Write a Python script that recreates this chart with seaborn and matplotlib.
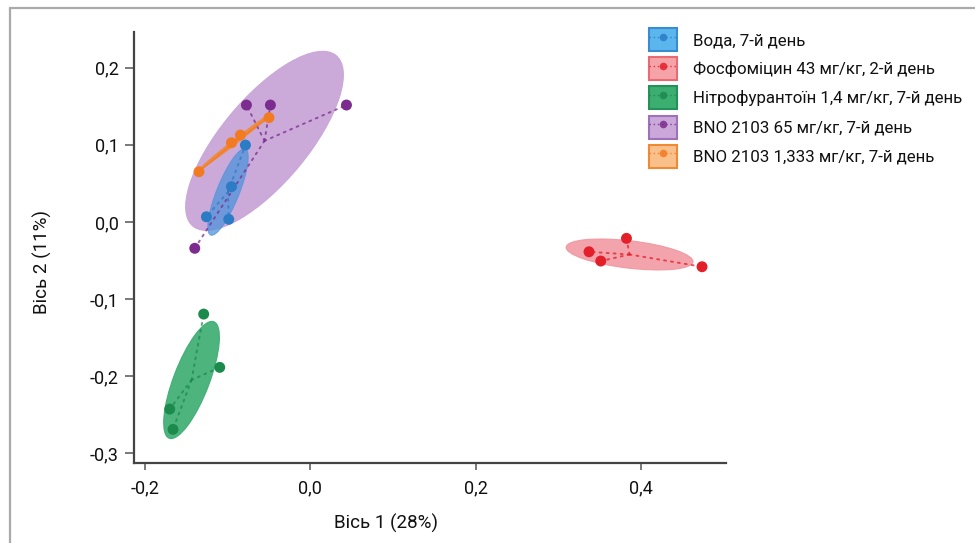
import numpy as np
import pandas as pd
import matplotlib
matplotlib.use("Agg")
import matplotlib.pyplot as plt
import seaborn as sns
from matplotlib.patches import Ellipse, Rectangle
from matplotlib.lines import Line2D
from matplotlib.legend_handler import HandlerTuple
from matplotlib import font_manager

# ---------------- data ----------------
groups = ["Вода, 7-й день",
          "Фосфоміцин 43 мг/кг, 2-й день",
          "Нітрофурантоїн 1,4 мг/кг, 7-й день",
          "BNO 2103 65 мг/кг, 7-й день",
          "BNO 2103 1,333 мг/кг, 7-й день"]

water_x = [-0.0785, -0.0954, -0.1257, -0.0987]
water_y = [0.0997, 0.0457, 0.0067, 0.0034]
fosfo_x = [0.3824, 0.3371, 0.3513, 0.4738]
fosfo_y = [-0.0213, -0.0387, -0.0507, -0.0581]
nitro_x = [-0.1290, -0.1096, -0.1701, -0.1661]
nitro_y = [-0.1195, -0.1886, -0.2427, -0.2690]
bno65_x = [-0.0773, -0.0483, 0.0437, -0.1398]
bno65_y = [0.1516, 0.1516, 0.1516, -0.0342]
bno1_x = [-0.1347, -0.0954, -0.0846, -0.0500]
bno1_y = [0.0651, 0.1027, 0.1127, 0.1352]

xticks = [-0.2, 0.0, 0.2, 0.4]
yticks = [-0.3, -0.2, -0.1, 0.0, 0.1, 0.2]
xlabel = "Вісь 1 (28%)"
ylabel = "Вісь 2 (11%)"

series_x = [water_x, fosfo_x, nitro_x, bno65_x, bno1_x]
series_y = [water_y, fosfo_y, nitro_y, bno65_y, bno1_y]

# ---------------- style ----------------
point_colors = ["#2b7cc4", "#e3202a", "#1b8a4c", "#7b2c8e", "#f27b22"]
ell_colors = ["#5093dc", "#f0939c", "#3aac70", "#c9a6d8", "#f4882e"]
ell_alpha = [0.75, 0.85, 0.9, 0.95, 0.9]
ell_edge_lw = [0.8, 0.8, 0.8, 0.8, 0.2]
n_std = [1.25, 1.25, 1.15, 1.25, 1.25]
leg_fill = ["#5cb6ee", "#f5a3a8", "#3cae70", "#caa8da", "#f9c08c"]
leg_edge = ["#3a8bd0", "#e86a72", "#25915a", "#9e72b8", "#f08a32"]
spider_ls = [(0, (1, 2.6))] * 4 + ["-"]

def pick_font():
    for fam in ["Liberation Sans Narrow", "Roboto"]:
        try:
            font_manager.findfont(fam, fallback_to_default=False)
            return fam
        except Exception:
            pass
    return "DejaVu Sans"

sns.set_theme(style="white")
fam = pick_font()
plt.rcParams["font.family"] = [fam, "DejaVu Sans"]

rows = []
for g, xs, ys in zip(groups, series_x, series_y):
    for a, b in zip(xs, ys):
        rows.append({"group": g, "x": a, "y": b})
df = pd.DataFrame(rows)

fig = plt.figure(figsize=(9.75, 5.43), dpi=100)
ax = fig.add_axes([134 / 975, 1 - 463 / 543, (726 - 134) / 975, (463 - 32) / 543])

# ellipses (largest first)
order = [3, 0, 2, 1, 4]
for k, i in enumerate(order):
    xs = np.array(series_x[i]); ys = np.array(series_y[i])
    cov = np.cov(xs, ys)
    vals, vecs = np.linalg.eigh(cov)
    idx = np.argsort(vals)[::-1]
    vals = vals[idx]; vecs = vecs[:, idx]
    ang = np.degrees(np.arctan2(vecs[1, 0], vecs[0, 0]))
    w = 2 * n_std[i] * np.sqrt(max(vals[0], 0))
    h = 2 * n_std[i] * np.sqrt(max(vals[1], 0))
    e = Ellipse((xs.mean(), ys.mean()), w, h, angle=ang,
                facecolor=ell_colors[i], edgecolor=ell_colors[i],
                lw=ell_edge_lw[i], alpha=ell_alpha[i], zorder=1 + k * 0.1)
    ax.add_patch(e)

# spider lines from centroid
for i in range(len(groups)):
    xs = np.array(series_x[i]); ys = np.array(series_y[i])
    cx, cy = xs.mean(), ys.mean()
    for a, b in zip(xs, ys):
        ax.plot([cx, a], [cy, b], color=point_colors[i],
                lw=1.4 if i != 4 else 1.0, ls=spider_ls[i],
                alpha=0.75, zorder=3, dash_capstyle="round")

sns.scatterplot(data=df, x="x", y="y", hue="group", palette=point_colors,
                hue_order=groups, s=62, edgecolor="none", legend=False,
                ax=ax, zorder=4)

ax.set_xlim(-0.2133, 0.5028)
ax.set_ylim(-0.3126, 0.2463)
ax.set_xticks(xticks)
ax.set_yticks(yticks)
ax.set_xticklabels([f"{t:.1f}".replace(".", ",") for t in xticks])
ax.set_yticklabels([f"{t:.1f}".replace(".", ",").replace("-0,0", "0,0") for t in yticks])
for s in ["top", "right"]:
    ax.spines[s].set_visible(False)
for s in ["left", "bottom"]:
    ax.spines[s].set_color("#444444")
    ax.spines[s].set_linewidth(1.6)
ax.tick_params(axis="y", direction="out", length=6.5, width=1.1, color="#555555",
               pad=4.5, labelsize=13, labelcolor="#111111", left=True)
ax.tick_params(axis="x", direction="out", length=5, width=1.1, color="#555555",
               pad=7, labelsize=13, labelcolor="#111111", bottom=True)
ax.set_facecolor("white")
ax.grid(False)

ax.set_xlabel(xlabel, fontsize=13.5, color="#111111")
ax.set_ylabel(ylabel, fontsize=13.5, color="#111111")
ax.xaxis.set_label_coords((386 - 134) / 592, -(523 - 463) / 431)
ax.xaxis.label.set_va("center")
ax.yaxis.set_label_coords((42 - 134) / 592, (463 - 262) / 431)
ax.yaxis.label.set_va("center")

# legend
handles = []
for i in range(len(groups)):
    r = Rectangle((0, 0), 1, 1, facecolor=leg_fill[i], edgecolor=leg_edge[i], lw=1.5)
    m = Line2D([0], [0], color=point_colors[i], ls=(0, (1, 2)), lw=1.0,
               marker="o", markersize=5.5, markeredgewidth=0, alpha=0.85)
    handles.append((r, m))
leg = fig.legend(handles, groups, loc="upper left",
                 bbox_to_anchor=(649 / 975, 1 - 28 / 543),
                 frameon=False, fontsize=12.2, handlelength=1.65, handleheight=1.72,
                 labelspacing=0.36, handletextpad=0.95, borderpad=0, borderaxespad=0,
                 handler_map={tuple: HandlerTuple(ndivide=1)})
for t in leg.get_texts():
    t.set_color("#111111")

# outer frame lines (top and left)
fig.add_artist(Line2D([10 / 975, 1.0], [1 - 8 / 543, 1 - 8 / 543], color="#aaaaaa", lw=1.6))
fig.add_artist(Line2D([10 / 975, 10 / 975], [0, 1 - 8 / 543], color="#aaaaaa", lw=1.6))

fig.savefig("out.png", dpi=100, facecolor="white")
